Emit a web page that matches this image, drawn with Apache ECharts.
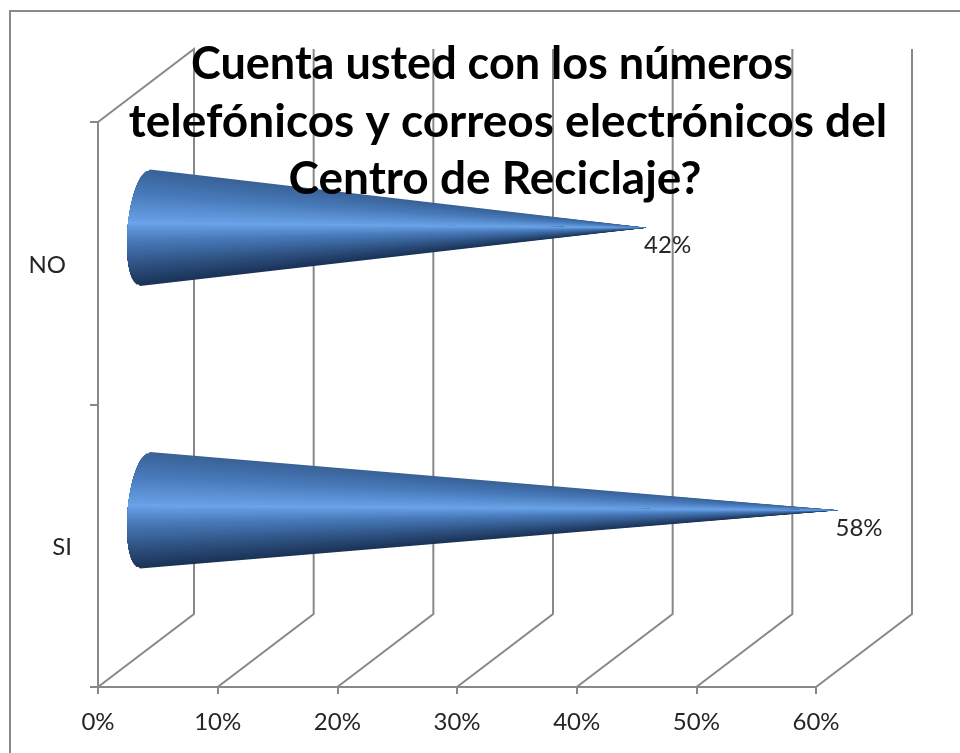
<!DOCTYPE html>
<html>
<head>
<meta charset="utf-8">
<style>
  html, body { margin: 0; padding: 0; background: #fff; }
  #chart { width: 960px; height: 753px; }
</style>
</head>
<body>
<div id="chart"></div>
<script src="https://cdn.jsdelivr.net/npm/echarts@6/dist/echarts.min.js"></script>
<script>
// datos
const titleLines = [
  "Cuenta usted con los números",
  "telefónicos y correos electrónicos del",
  "Centro de Reciclaje?",
];
const categories = ["SI", "NO"];
const values = [0.58, 0.42];
const xTicks = [0, 0.1, 0.2, 0.3, 0.4, 0.5, 0.6];

const FONT = "Lato";
const TEXT_COLOR = "#262626";
const GRID_COLOR = "#888888";
const DEPTH_X = 96; // profundidad del falso 3D
const DEPTH_Y = 73;
const TITLE_CENTERS = [492, 508, 495]; // el original no esta bien centrado
const TITLE_SIZES = [45, 46, 46];
const PEAK = 0.46; // parte mas clara del cono

// sombreado del cono, de arriba (0) a abajo (1)
const shade = [
  [0, [58, 98, 152]],
  [0.2, [72, 122, 186]],
  [PEAK, [107, 163, 232]],
  [0.62, [72, 122, 186]],
  [0.85, [44, 78, 124]],
  [1, [27, 52, 88]],
];

function shadeAt(f) {
  for (let i = 1; i < shade.length; i++) {
    if (f <= shade[i][0]) {
      const a = shade[i - 1], b = shade[i];
      const k = (f - a[0]) / (b[0] - a[0]);
      const c = a[1].map((v, j) => Math.round(v + (b[1][j] - v) * k));
      return "rgb(" + c.join(",") + ")";
    }
  }
  return "rgb(" + shade[shade.length - 1][1].join(",") + ")";
}

function pct(v) {
  return Math.round(v * 100) + "%";
}

// lineas del suelo y de la pared del fondo
function renderDepthLine(params, api) {
  const box = params.coordSys;
  const x = api.coord([api.value(0), 0])[0];
  const bottom = box.y + box.height;
  const points = [
    [x, bottom],
    [x + DEPTH_X, bottom - DEPTH_Y],
    [x + DEPTH_X, box.y - DEPTH_Y],
  ];
  if (api.value(0) === 0) points.push([x, box.y]);
  return {
    type: "polyline",
    shape: { points: points },
    style: { stroke: GRID_COLOR, lineWidth: 2, fill: "none" },
    silent: true,
  };
}

// cono horizontal: cuñas desde la base hasta la punta.
// Se pinta desde los bordes hacia la zona clara y cada cuña pisa a la
// anterior, asi no quedan rayas entre ellas y la punta sale clara
function renderCone(params, api) {
  const end = api.coord([api.value(0), api.value(1)]);
  const start = api.coord([0, api.value(1)]);
  const band = api.size([0, 1])[1];
  const tipX = end[0] + DEPTH_X / 2 - 2;
  const cy = end[1] - DEPTH_Y / 2 + 1;
  const cx = start[0] + DEPTH_X / 2 - 1;
  const ry = band * 0.206;
  const rx = 17.3;
  const skew = 5;
  const steps = 80;
  const arc = (f) => {
    const t = Math.asin(f * 2 - 1);
    return [cx - rx * Math.cos(t) - skew * Math.sin(t), cy + ry * Math.sin(t)];
  };
  const wedge = (f0, f1, color) => {
    const points = [];
    for (let k = 0; k <= 8; k++) points.push(arc(f0 + ((f1 - f0) * k) / 8));
    points.push([tipX, cy]);
    return {
      type: "polygon",
      shape: { points: points },
      style: { fill: color },
      silent: true,
    };
  };
  const children = [];
  const peakStep = Math.round(PEAK * steps);
  for (let i = 0; i < peakStep; i++) {
    children.push(wedge(i / steps, PEAK, shadeAt(i / steps)));
  }
  for (let i = steps; i > peakStep; i--) {
    children.push(wedge(PEAK, i / steps, shadeAt(i / steps)));
  }
  // tapa la raya que dejan los bordes acumulados en la zona clara
  children.push(wedge(PEAK - 0.015, PEAK + 0.015, shadeAt(PEAK)));
  children.push({
    type: "text",
    x: tipX + 21,
    y: cy + 18,
    style: {
      text: pct(api.value(0)),
      font: "24px " + FONT,
      fill: TEXT_COLOR,
      align: "center",
      verticalAlign: "middle",
    },
    silent: true,
  });
  return { type: "group", children: children };
}

const chart = echarts.init(document.getElementById("chart"));
chart.setOption({
  animation: false,
  backgroundColor: "#fff",
  title: titleLines.map((line, i) => ({
    text: line,
    left: TITLE_CENTERS[i],
    top: 41.5 + i * 57.5,
    textAlign: "center",
    z: 20,
    padding: 0,
    textStyle: {
      fontFamily: FONT,
      fontWeight: "bold",
      fontSize: TITLE_SIZES[i],
      color: "#000",
    },
  })),
  graphic: [
    {
      type: "rect",
      silent: true,
      shape: { x: 10, y: 11, width: 1000, height: 800 },
      style: { fill: "none", stroke: "#8a8a8a", lineWidth: 2 },
    },
  ],
  grid: { left: 98, right: 144, top: 122, bottom: 66 },
  xAxis: {
    type: "value",
    min: 0,
    max: 0.6,
    interval: 0.1,
    splitLine: { show: false },
    axisLine: { show: true, lineStyle: { color: GRID_COLOR, width: 2 } },
    axisTick: { show: true, length: 7, lineStyle: { color: GRID_COLOR, width: 2 } },
    axisLabel: {
      margin: 23,
      formatter: pct,
      fontFamily: FONT,
      fontSize: 24,
      color: TEXT_COLOR,
    },
  },
  yAxis: {
    type: "category",
    data: categories,
    axisLine: { show: true, onZero: false, lineStyle: { color: GRID_COLOR, width: 2 } },
    axisTick: { show: true, length: 8, lineStyle: { color: GRID_COLOR, width: 2 } },
    axisLabel: {
      margin: 26,
      fontFamily: FONT,
      fontSize: 24,
      color: TEXT_COLOR,
      padding: [4, 0, 0, 0],
      formatter: (v) => (v === "NO" ? "{no|" + v + "}" : v),
      rich: { no: { fontFamily: FONT, fontSize: 24, color: TEXT_COLOR, padding: [0, 6, 0, 0] } },
    },
  },
  series: [
    {
      type: "custom",
      name: "rejilla",
      clip: false,
      z: 1,
      encode: { x: 0 },
      data: xTicks.map((v) => [v]),
      renderItem: renderDepthLine,
    },
    {
      type: "custom",
      name: "conos",
      clip: false,
      z: 5,
      encode: { x: 0, y: 1 },
      data: values.map((v, i) => [v, i]),
      renderItem: renderCone,
    },
  ],
});
</script>
</body>
</html>
